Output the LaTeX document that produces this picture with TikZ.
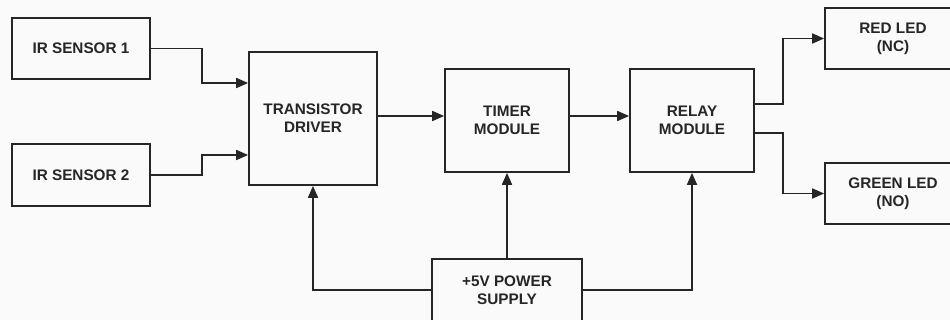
\documentclass[tikz,border=0pt]{standalone}
\usepackage{fontspec}
\setmainfont{Liberation Sans}
\usetikzlibrary{arrows.meta}
\definecolor{ink}{HTML}{262626}
\definecolor{bg}{HTML}{FAFAFA}
\begin{document}
\begin{tikzpicture}[x=1pt,y=-1pt,
  blk/.style={draw=ink,line width=1.7pt,text=ink,align=center,inner sep=0pt,
    font=\fontsize{15.3}{18}\selectfont\bfseries},
  conn/.style={draw=ink,line width=1.7pt},
  arr/.style={conn,-{Triangle[length=12pt,width=10pt]}}]
\fill[bg] (0,0) rectangle (950,320);
\useasboundingbox (0,0) rectangle (950,320);
\clip (0,0) rectangle (950,320);
\node[blk,minimum width=138pt,minimum height=61pt] (ir1) at (81,48.5) {IR SENSOR 1};
\node[blk,minimum width=138pt,minimum height=62pt] (ir2) at (81,175) {IR SENSOR 2};
\node[blk,minimum width=128pt,minimum height=133pt] (td) at (313,118.5) {TRANSISTOR\\DRIVER};
\node[blk,minimum width=124pt,minimum height=103pt] (tm) at (507,120.5) {TIMER\\MODULE};
\node[blk,minimum width=124pt,minimum height=103pt] (rm) at (692,120.5) {RELAY\\MODULE};
\node[blk,minimum width=136pt,minimum height=61pt] (red) at (893,38.5) {RED LED\\(NC)};
\node[blk,minimum width=136pt,minimum height=61pt] (grn) at (893,193.5) {GREEN LED\\(NO)};
\node[blk,minimum width=150pt,minimum height=62pt] (ps) at (507,290) {+5V POWER\\SUPPLY};
\draw[arr] (ir1.east) -- ++(51,0) |- (td.west |- 0,83);
\draw[arr] (ir2.east) -- ++(51,0) |- (td.west |- 0,155);
\draw[arr] (td.east |- 0,116) -- (tm.west |- 0,116);
\draw[arr] (tm.east |- 0,116) -- (rm.west |- 0,116);
\draw[arr] (rm.east |- 0,104) -- (783,104) |- (red.west);
\draw[arr] (rm.east |- 0,133) -- (783,133) |- (grn.west);
\draw[arr] (ps.west) -| (td.south);
\draw[arr] (ps.north) -- (tm.south);
\draw[arr] (ps.east) -| (rm.south);
\end{tikzpicture}
\end{document}
